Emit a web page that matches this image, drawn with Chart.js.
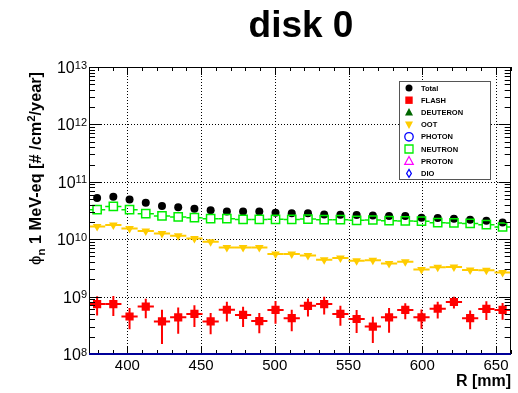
<!DOCTYPE html>
<html><head><meta charset="utf-8">
<script src="https://cdn.jsdelivr.net/npm/chart.js@4.4.1/dist/chart.umd.min.js"></script>
<style>html,body{margin:0;padding:0;background:#fff;}</style>
</head><body>
<canvas id="c" width="518" height="393"></canvas>
<script>
// ---- data ----
const rCenters = [379.5, 390.5, 401.5, 412.5, 423.5, 434.5, 445.5, 456.5, 467.5, 478.5, 489.5, 500.5, 511.5,
                  522.5, 533.5, 544.5, 555.5, 566.5, 577.5, 588.5, 599.5, 610.5, 621.5, 632.5, 643.5, 654.5];
const binHalfWidth = 5.5;
const totalFlux = [5.2e10, 5.5e10, 4.9e10, 4.3e10, 3.8e10, 3.6e10, 3.4e10, 3.2e10, 3.05e10, 3.05e10, 3.05e10, 2.88e10, 2.83e10,
                   2.83e10, 2.7e10, 2.68e10, 2.63e10, 2.6e10, 2.53e10, 2.53e10, 2.37e10, 2.35e10, 2.27e10, 2.19e10, 2.1e10, 1.96e10];
const neutronFlux = [3.27e10, 3.73e10, 3.27e10, 2.78e10, 2.54e10, 2.44e10, 2.37e10, 2.28e10, 2.28e10, 2.21e10, 2.21e10, 2.22e10, 2.21e10,
                     2.24e10, 2.19e10, 2.19e10, 2.13e10, 2.16e10, 2.1e10, 2.08e10, 2.06e10, 1.94e10, 1.92e10, 1.88e10, 1.79e10, 1.63e10];
const ootFlux = [1.67e10, 1.77e10, 1.54e10, 1.39e10, 1.26e10, 1.15e10, 1.03e10, 9.06e9, 7.2e9, 7.2e9, 7.2e9, 5.55e9, 5.5e9,
                 5.2e9, 4.4e9, 4.7e9, 4.2e9, 4.3e9, 3.78e9, 4.05e9, 2.98e9, 3.23e9, 3.27e9, 2.9e9, 2.88e9, 2.64e9];
const flashFlux = [7.4e8, 7.4e8, 4.5e8, 6.7e8, 3.7e8, 4.35e8, 5.0e8, 3.7e8, 5.9e8, 4.8e8, 3.75e8, 5.85e8, 4.2e8,
                   6.9e8, 7.4e8, 5.0e8, 4.07e8, 3.0e8, 4.35e8, 5.85e8, 4.35e8, 6.15e8, 8.05e8, 4.2e8, 6.1e8, 5.85e8];
const flashErr = [2.7e8, 2.8e8, 1.8e8, 2.5e8, 2.2e8, 2.1e8, 2.05e8, 1.5e8, 2.2e8, 1.85e8, 1.45e8, 2.5e8, 1.7e8,
                  2.4e8, 2.5e8, 1.9e8, 1.75e8, 1.45e8, 2.0e8, 1.8e8, 1.6e8, 2.0e8, 1.85e8, 1.5e8, 2.2e8, 1.9e8];
const deuteronFlux = [];
const photonFlux = [];
const protonFlux = [];
const dioFlux = [];
const xTickValues = [400, 450, 500, 550, 600, 650];
const yDecadeExponents = [8, 9, 10, 11, 12, 13];
const chartTitle = 'disk 0';
const xTitle = 'R [mm]';

const FONT = "'Liberation Sans', Arial, Helvetica, sans-serif";
const pts = vals => vals.map((v, i) => ({x: rCenters[i], y: v}));

function drawMarker(ctx, style, x, y, s, fill, stroke, lw) {
  ctx.save();
  ctx.beginPath();
  if (style === 'circle') ctx.arc(x, y, s, 0, Math.PI * 2);
  else if (style === 'rect') ctx.rect(x - s, y - s, 2 * s, 2 * s);
  else if (style === 'triUp') { ctx.moveTo(x, y - s * 1.1); ctx.lineTo(x + s, y + s * 0.75); ctx.lineTo(x - s, y + s * 0.75); ctx.closePath(); }
  else if (style === 'triDown') { ctx.moveTo(x, y + s * 1.1); ctx.lineTo(x + s, y - s * 0.75); ctx.lineTo(x - s, y - s * 0.75); ctx.closePath(); }
  else if (style === 'diamond') { ctx.moveTo(x, y - s); ctx.lineTo(x + s * 0.6, y); ctx.lineTo(x, y + s); ctx.lineTo(x - s * 0.6, y); ctx.closePath(); }
  if (fill) { ctx.fillStyle = fill; ctx.fill(); }
  if (stroke) { ctx.strokeStyle = stroke; ctx.lineWidth = lw || 1; ctx.stroke(); }
  ctx.restore();
}

function seg(ctx, x1, y1, x2, y2) { ctx.beginPath(); ctx.moveTo(x1, y1); ctx.lineTo(x2, y2); ctx.stroke(); }

const rootStyle = {
  id: 'rootStyle',
  beforeDatasetsDraw(chart) {
    const {ctx, chartArea: a, scales: {x, y}} = chart;
    ctx.save();
    ctx.strokeStyle = '#000'; ctx.lineWidth = 1; ctx.setLineDash([1, 2]);
    xTickValues.forEach(v => { const px = Math.round(x.getPixelForValue(v)) + 0.5; seg(ctx, px, a.top, px, a.bottom); });
    yDecadeExponents.forEach(e => { const py = Math.round(y.getPixelForValue(Math.pow(10, e))) + 0.5; seg(ctx, a.left, py, a.right, py); });
    ctx.setLineDash([]);
    ctx.beginPath(); ctx.rect(a.left, a.top, a.right - a.left, a.bottom - a.top); ctx.clip();
    chart.data.datasets.forEach((ds, i) => {
      if (!ds.errXHalf) return;
      ctx.strokeStyle = ds.errColor; ctx.lineWidth = ds.errWidth;
      const g = ds.errGap || 0;
      ds.data.forEach((p, j) => {
        const px = x.getPixelForValue(p.x), py = y.getPixelForValue(p.y);
        const xl = x.getPixelForValue(p.x - ds.errXHalf), xr = x.getPixelForValue(p.x + ds.errXHalf);
        seg(ctx, xl, py, px - g, py); seg(ctx, px + g, py, xr, py);
        if (ds.errY) {
          const e = ds.errY[j];
          const yt = y.getPixelForValue(p.y + e), yb = y.getPixelForValue(Math.max(p.y - e, 1e6));
          seg(ctx, px, yt, px, py - g); seg(ctx, px, py + g, px, yb);
        }
      });
    });
    ctx.restore();
  },
  afterDraw(chart) {
    const {ctx, chartArea: a, scales: {x, y}} = chart;
    ctx.save();
    // ticks
    ctx.strokeStyle = '#000'; ctx.lineWidth = 1;
    for (let v = 380; v <= 660; v += 10) {
      const px = Math.round(x.getPixelForValue(v)) + 0.5;
      const L = (v % 50 === 0) ? 8 : 4;
      seg(ctx, px, a.bottom, px, a.bottom - L);
      seg(ctx, px, a.top, px, a.top + L);
    }
    for (let e = 8; e <= 12; e++) {
      for (let m = 1; m <= 9; m++) {
        const py = Math.round(y.getPixelForValue(m * Math.pow(10, e))) + 0.5;
        const L = m === 1 ? 12 : 6;
        seg(ctx, a.left, py, a.left + L, py);
        seg(ctx, a.right, py, a.right - L, py);
      }
    }
    { const py = Math.round(y.getPixelForValue(1e13)) + 0.5; seg(ctx, a.left, py, a.left + 12, py); seg(ctx, a.right, py, a.right - 12, py); }
    // frame
    ctx.strokeStyle = '#000'; ctx.lineWidth = 1;
    ctx.strokeRect(Math.round(a.left) + 0.5, Math.round(a.top) + 0.5, Math.round(a.right - a.left) - 1, Math.round(a.bottom - a.top));
    ctx.strokeStyle = '#000099'; ctx.lineWidth = 2;
    seg(ctx, a.left, a.bottom, a.right, a.bottom);
    // y tick labels 10^n
    ctx.fillStyle = '#000'; ctx.textBaseline = 'alphabetic'; ctx.textAlign = 'left';
    yDecadeExponents.forEach(e => {
      const py = y.getPixelForValue(Math.pow(10, e));
      ctx.font = '16px ' + FONT;
      const bw = ctx.measureText('10').width;
      ctx.font = '11px ' + FONT;
      const ew = ctx.measureText(String(e)).width;
      const x0 = 87 - bw - ew;
      ctx.font = '16px ' + FONT;
      ctx.fillText('10', x0, py + 6);
      ctx.font = '11px ' + FONT;
      ctx.fillText(String(e), x0 + bw, py + 1.5);
    });
    // title
    ctx.font = 'bold 37px ' + FONT; ctx.textAlign = 'center';
    ctx.fillText(chartTitle, 301, 37);
    // x title
    ctx.font = 'bold 16px ' + FONT; ctx.textAlign = 'right';
    ctx.fillText(xTitle, 511, 386);
    // y title (rotated)
    ctx.save();
    ctx.translate(41, 72); ctx.rotate(-Math.PI / 2);
    ctx.textAlign = 'left';
    const parts = [
      {t: '\u03D5', f: '17px ' + FONT, dy: 0},
      {t: 'n', f: 'bold 11.5px ' + FONT, dy: 4},
      {t: ' 1 MeV-eq [# /cm', f: 'bold 16.3px ' + FONT, dy: 0},
      {t: '2', f: 'bold 11.5px ' + FONT, dy: -6.5},
      {t: '/year]', f: 'bold 16.3px ' + FONT, dy: 0}
    ];
    let W = 0;
    parts.forEach(p => { ctx.font = p.f; p.w = ctx.measureText(p.t).width; W += p.w; });
    let cx = -W;
    parts.forEach(p => { ctx.font = p.f; ctx.fillText(p.t, cx, p.dy); cx += p.w; });
    ctx.restore();
    // legend
    const lx = 399.5, ly = 81.5, lw = 91, lh = 98;
    ctx.fillStyle = '#fff'; ctx.fillRect(lx, ly, lw, lh);
    ctx.strokeStyle = '#555'; ctx.lineWidth = 1; ctx.strokeRect(lx, ly, lw, lh);
    ctx.font = 'bold 7.5px ' + FONT; ctx.textAlign = 'left'; ctx.textBaseline = 'middle';
    chart.data.datasets.forEach((ds, i) => {
      const ry = 88 + i * 12.2;
      const m = ds.legendMarker;
      drawMarker(ctx, m.style, 409, ry, m.size, m.fill, m.stroke, m.lw);
      ctx.fillStyle = '#000';
      ctx.fillText(ds.label, 421, ry + 0.5);
    });
    ctx.restore();
  }
};

const datasets = [
  {label: 'Total', data: pts(totalFlux), pointStyle: 'circle', pointRadius: 4, backgroundColor: '#000', borderColor: '#000', borderWidth: 0, order: 5,
   legendMarker: {style: 'circle', size: 3.5, fill: '#000'}},
  {label: 'FLASH', data: pts(flashFlux), pointStyle: 'rect', pointRadius: 5.8, backgroundColor: '#ff0000', borderColor: '#ff0000', borderWidth: 0, order: 1,
   errXHalf: binHalfWidth, errY: flashErr, errColor: '#ff0000', errWidth: 2, errGap: 0,
   legendMarker: {style: 'rect', size: 3.7, fill: '#ff0000'}},
  {label: 'DEUTERON', data: pts(deuteronFlux), pointStyle: 'triangle', pointRadius: 4, backgroundColor: '#006600', borderColor: '#006600', order: 2,
   legendMarker: {style: 'triUp', size: 4, fill: '#006600'}},
  {label: 'OOT', data: pts(ootFlux), pointStyle: 'triangle', rotation: 180, pointRadius: 5, backgroundColor: '#ffcc00', borderColor: '#ffcc00', borderWidth: 0, order: 3,
   errXHalf: binHalfWidth, errColor: '#ffcc00', errWidth: 2, errGap: 0,
   legendMarker: {style: 'triDown', size: 4, fill: '#ffcc00'}},
  {label: 'PHOTON', data: pts(photonFlux), pointStyle: 'circle', pointRadius: 4, backgroundColor: 'rgba(0,0,0,0)', borderColor: '#0000ff', order: 2,
   legendMarker: {style: 'circle', size: 4.2, stroke: '#0000ff', lw: 1.3}},
  {label: 'NEUTRON', data: pts(neutronFlux), pointStyle: 'rect', pointRadius: 5.8, backgroundColor: 'rgba(0,0,0,0)', borderColor: '#00ee00', borderWidth: 1.5, order: 0,
   errXHalf: binHalfWidth, errColor: '#00ee00', errWidth: 1.5, errGap: 4,
   legendMarker: {style: 'rect', size: 4, stroke: '#00ee00', lw: 1.3}},
  {label: 'PROTON', data: pts(protonFlux), pointStyle: 'triangle', pointRadius: 4, backgroundColor: 'rgba(0,0,0,0)', borderColor: '#ff00ff', order: 2,
   legendMarker: {style: 'triUp', size: 4.3, stroke: '#ff00ff', lw: 1.2}},
  {label: 'DIO', data: pts(dioFlux), pointStyle: 'rectRot', pointRadius: 4, backgroundColor: 'rgba(0,0,0,0)', borderColor: '#0000ff', order: 2,
   legendMarker: {style: 'diamond', size: 4, stroke: '#0000ff', lw: 1.2}}
];

new Chart(document.getElementById('c'), {
  type: 'scatter',
  data: {datasets},
  options: {
    responsive: false,
    animation: false,
    devicePixelRatio: 1,
    layout: {padding: {left: 0, right: 6, top: 67, bottom: 0}},
    plugins: {legend: {display: false}, title: {display: false}, tooltip: {enabled: false}},
    scales: {
      x: {
        type: 'linear', min: 374, max: 660,
        afterBuildTicks: s => { s.ticks = xTickValues.map(v => ({value: v})); },
        afterFit: s => { s.height = 39; },
        grid: {display: false, drawTicks: false},
        border: {display: false},
        ticks: {font: {size: 15, family: FONT}, color: '#000', padding: 3, maxRotation: 0, autoSkip: false}
      },
      y: {
        type: 'logarithmic', min: 1e8, max: 1e13,
        afterFit: s => { s.width = 89; },
        grid: {display: false, drawTicks: false},
        border: {display: false},
        ticks: {display: false}
      }
    }
  },
  plugins: [rootStyle]
});
</script>
</body></html>
